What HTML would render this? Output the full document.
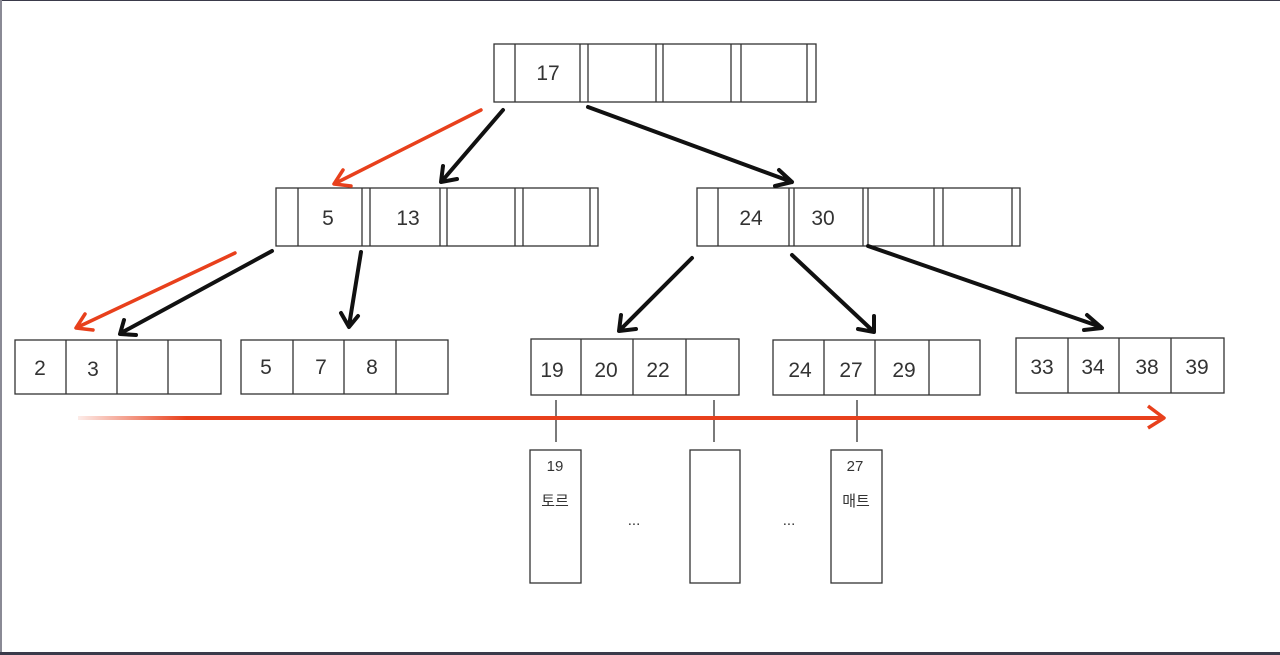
<!DOCTYPE html>
<html><head><meta charset="utf-8"><style>
html,body{margin:0;padding:0;background:#fff}
svg{display:block}
text{font-family:"Liberation Sans","Noto Sans CJK KR",sans-serif;fill:#333}
</style></head><body>
<svg width="1280" height="655" viewBox="0 0 1280 655" xmlns="http://www.w3.org/2000/svg">
<rect x="0" y="0" width="1280" height="655" fill="#fff"/>
<rect x="0" y="0" width="1280" height="1" fill="#3a3a4a"/>
<rect x="0" y="0" width="2" height="655" fill="#8a8a95"/>
<rect x="0" y="652" width="1280" height="3" fill="#3a3a4a"/>
<g fill="none" stroke="#333" stroke-width="1.3">
<!-- root -->
<rect x="494" y="44" width="322" height="58"/>
<path d="M515 44V102M580 44V102M588 44V102M656 44V102M663 44V102M731 44V102M741 44V102M807 44V102"/>
<!-- level2 left -->
<rect x="276" y="188" width="322" height="58"/>
<path d="M298 188V246M362 188V246M370 188V246M440 188V246M447 188V246M515 188V246M523 188V246M590 188V246"/>
<!-- level2 right -->
<rect x="697" y="188" width="323" height="58"/>
<path d="M718 188V246M789 188V246M794 188V246M863 188V246M868 188V246M934 188V246M943 188V246M1012 188V246"/>
<!-- leaves -->
<rect x="15" y="340" width="206" height="54"/>
<path d="M66 340V394M117 340V394M168 340V394"/>
<rect x="241" y="340" width="207" height="54"/>
<path d="M293 340V394M344 340V394M396 340V394"/>
<rect x="531" y="339" width="208" height="56"/>
<path d="M581 339V395M633 339V395M686 339V395"/>
<rect x="773" y="340" width="207" height="55"/>
<path d="M824 340V395M875 340V395M929 340V395"/>
<rect x="1016" y="338" width="208" height="55"/>
<path d="M1068 338V393M1119 338V393M1171 338V393"/>
<!-- records -->
<path d="M556 400V442M714 400V442M857 400V442"/>
<rect x="530" y="450" width="51" height="133"/>
<rect x="690" y="450" width="50" height="133"/>
<rect x="831" y="450" width="51" height="133"/>
</g>
<defs>
<linearGradient id="rg" x1="0" x2="1"><stop offset="0" stop-color="#e8401c" stop-opacity="0.1"/><stop offset="0.1" stop-color="#e8401c"/><stop offset="1" stop-color="#e8401c"/></linearGradient>
</defs>
<rect x="78" y="416" width="1085" height="4" fill="url(#rg)"/>
<path d="M1148 406L1164 418L1148 428" fill="none" stroke="#e8401c" stroke-width="3.5" stroke-linejoin="round"/>
<g fill="none" stroke-linecap="round" stroke-linejoin="round">
<g stroke="#e8401c" stroke-width="3.5">
<path d="M481 110L336 183M343 170L334 184L351 186"/>
<path d="M235 253L78 327M85 314L76 328L93 330"/>
</g>
<g stroke="#111" stroke-width="4">
<path d="M503 110L442 181M443 166L441 182L457 179"/>
<path d="M588 107L792 182M779 170L792 182L775 186"/>
<path d="M272 251L121 333M124 320L120 334L136 335"/>
<path d="M361 252L349 326M341 313L349 327L358 316"/>
<path d="M692 258L620 330M621 315L619 331L636 329"/>
<path d="M792 255L873 331M858 329L874 332L874 316"/>
<path d="M868 246L1101 327M1087 315L1102 328L1084 330"/>
</g>
</g>
<g font-size="21" text-anchor="middle">
<text x="548" y="80">17</text>
<text x="328" y="225">5</text>
<text x="408" y="225">13</text>
<text x="751" y="225">24</text>
<text x="823" y="225">30</text>
<text x="40" y="375">2</text>
<text x="93" y="376">3</text>
<text x="266" y="374">5</text>
<text x="321" y="374">7</text>
<text x="372" y="374">8</text>
<text x="552" y="377">19</text>
<text x="606" y="377">20</text>
<text x="658" y="377">22</text>
<text x="800" y="377">24</text>
<text x="851" y="377">27</text>
<text x="904" y="377">29</text>
<text x="1042" y="374">33</text>
<text x="1093" y="374">34</text>
<text x="1147" y="374">38</text>
<text x="1197" y="374">39</text>
</g>
<g font-size="15" text-anchor="middle">
<text x="555" y="471">19</text>
<text x="555" y="506">토르</text>
<text x="855" y="471">27</text>
<text x="856" y="506">매트</text>
<text x="634" y="525">...</text>
<text x="789" y="525">...</text>
</g>
</svg>
</body></html>
